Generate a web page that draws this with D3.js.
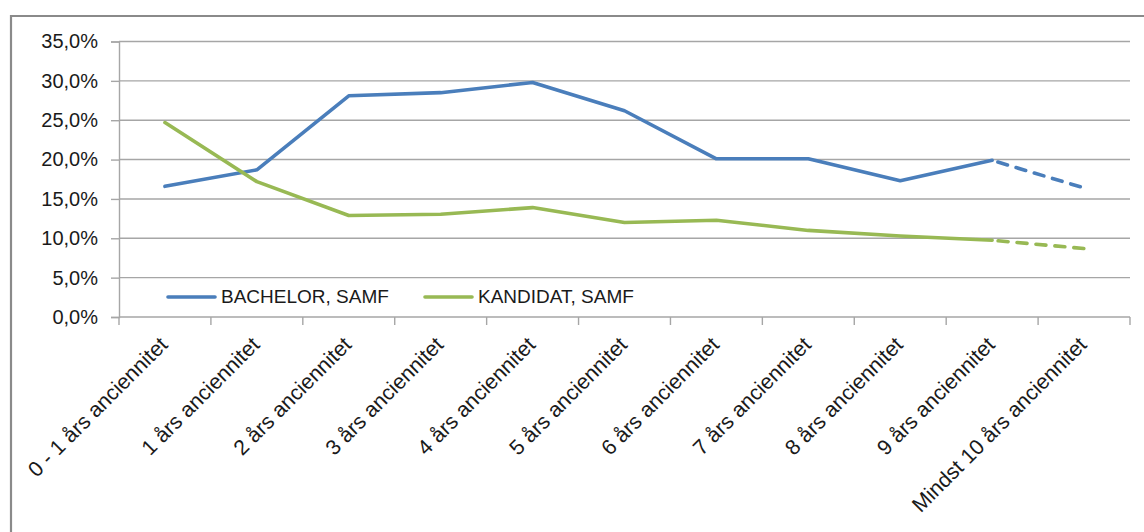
<!DOCTYPE html>
<html>
<head>
<meta charset="utf-8">
<script src="https://cdn.jsdelivr.net/npm/d3@7"></script>
<style>
  html, body { margin: 0; padding: 0; background: #fff; }
  svg { display: block; }
  text { font-family: "Liberation Sans", Arial, sans-serif; fill: #1a1a1a; }
</style>
</head>
<body>
<svg id="chart" width="1144" height="532"></svg>
<script>
const categories = [
  "0 - 1 års anciennitet", "1 års anciennitet", "2 års anciennitet", "3 års anciennitet",
  "4 års anciennitet", "5 års anciennitet", "6 års anciennitet", "7 års anciennitet",
  "8 års anciennitet", "9 års anciennitet", "Mindst 10 års anciennitet"
];
const bachelorValues = [0.166, 0.187, 0.281, 0.285, 0.298, 0.262, 0.201, 0.201, 0.173, 0.199, 0.164];
const kandidatValues = [0.247, 0.172, 0.129, 0.1305, 0.139, 0.120, 0.123, 0.110, 0.103, 0.0975, 0.087];
const seriesNames = ["BACHELOR, SAMF", "KANDIDAT, SAMF"];
const seriesColors = ["#4A7EBB", "#98B954"];
const yTicks = [0, 0.05, 0.10, 0.15, 0.20, 0.25, 0.30, 0.35];

(function () {
const svg = d3.select("#chart");
const plotLeft = 119, plotRight = 1130, plotTop = 41.5, plotBottom = 317;

// outer frame (left and top edges visible)
svg.append("path")
  .attr("d", "M11,532 L11,16 L1144,16")
  .attr("fill", "none").attr("stroke", "#8a8a8a").attr("stroke-width", 2.2);

const x = d3.scaleBand().domain(categories).range([plotLeft, plotRight]).paddingInner(0).paddingOuter(0);
const y = d3.scaleLinear().domain([0, 0.35]).range([plotBottom, plotTop]);
const cx = c => x(c) + x.bandwidth() / 2;

// gridlines
svg.append("g").selectAll("line")
  .data(yTicks.filter(d => d > 0))
  .join("line")
  .attr("x1", plotLeft).attr("x2", plotRight)
  .attr("y1", d => y(d)).attr("y2", d => y(d))
  .attr("stroke", "#a6a6a6").attr("stroke-width", 1.4);

// y axis
const yAxis = d3.axisLeft(y)
  .tickValues(yTicks)
  .tickSize(8)
  .tickPadding(13)
  .tickFormat(d => d3.format(".1f")(d * 100).replace(".", ",") + "%");
const gy = svg.append("g").attr("transform", `translate(${plotLeft},0)`).call(yAxis);
gy.select(".domain").attr("stroke", "#a6a6a6").attr("stroke-width", 1.4);
gy.selectAll(".tick line").attr("stroke", "#a6a6a6").attr("stroke-width", 1.4);
gy.selectAll(".tick text").style("font-size", "20px").attr("fill", "#1a1a1a")
  .style("font-family", "'Liberation Sans', Arial, sans-serif");

// x axis line and ticks between categories
const boundaries = categories.map(c => x(c)).concat([x(categories[categories.length - 1]) + x.bandwidth()]);
svg.append("line")
  .attr("x1", plotLeft).attr("x2", plotRight).attr("y1", plotBottom).attr("y2", plotBottom)
  .attr("stroke", "#a6a6a6").attr("stroke-width", 1.4);
svg.append("g").selectAll("line")
  .data(boundaries)
  .join("line")
  .attr("x1", d => d).attr("x2", d => d)
  .attr("y1", plotBottom).attr("y2", plotBottom + 8)
  .attr("stroke", "#a6a6a6").attr("stroke-width", 1.4);

// x labels rotated
svg.append("g").selectAll("text")
  .data(categories)
  .join("text")
  .attr("transform", c => `translate(${cx(c) + 4},${plotBottom + 29}) rotate(-45)`)
  .attr("text-anchor", "end")
  .style("font-size", "21.3px")
  .text(c => c);

// lines
const line = d3.line().x(d => cx(d.c)).y(d => y(d.v));
[bachelorValues, kandidatValues].forEach((vals, i) => {
  const pts = vals.map((v, j) => ({ c: categories[j], v }));
  const n = pts.length;
  svg.append("path")
    .attr("d", line(pts.slice(0, n - 1)))
    .attr("fill", "none").attr("stroke", seriesColors[i])
    .attr("stroke-width", 3.6).attr("stroke-linejoin", "round").attr("stroke-linecap", "round");
  svg.append("path")
    .attr("d", line(pts.slice(n - 2)))
    .attr("fill", "none").attr("stroke", seriesColors[i])
    .attr("stroke-width", 3.6).attr("stroke-linecap", "round")
    .attr("stroke-dasharray", "10,9").attr("stroke-dashoffset", -6);
});

// legend
const legendItems = [
  { name: seriesNames[0], color: seriesColors[0], x0: 168 },
  { name: seriesNames[1], color: seriesColors[1], x0: 425 }
];
const lg = svg.append("g");
legendItems.forEach(it => {
  lg.append("line")
    .attr("x1", it.x0).attr("x2", it.x0 + 47).attr("y1", 297).attr("y2", 297)
    .attr("stroke", it.color).attr("stroke-width", 3.6).attr("stroke-linecap", "round");
  lg.append("text")
    .attr("x", it.x0 + 53).attr("y", 303)
    .style("font-size", "19px")
    .text(it.name);
});
})();
</script>
</body>
</html>
